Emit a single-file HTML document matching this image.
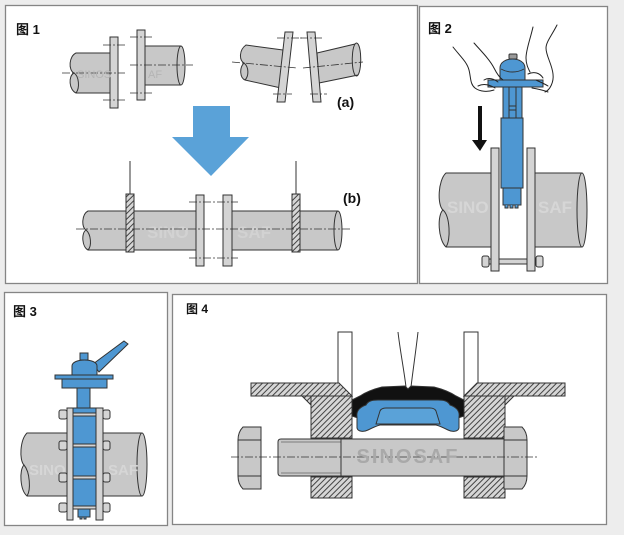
<!DOCTYPE html>
<html><head><meta charset="utf-8"><style>
html,body{margin:0;padding:0;background:#ededed;}
svg{display:block;}
text{font-family:"Liberation Sans","Noto Sans CJK SC",sans-serif;}
</style></head><body>
<svg width="624" height="535" viewBox="0 0 624 535" xmlns="http://www.w3.org/2000/svg">
<defs>
<pattern id="h" width="4" height="4" patternUnits="userSpaceOnUse" patternTransform="rotate(45)">
<rect width="4" height="4" fill="#d6d6d6"/><line x1="0.5" y1="0" x2="0.5" y2="4" stroke="#444" stroke-width="1"/>
</pattern>
</defs>
<rect width="624" height="535" fill="#ededed"/>

<!-- Panel 1 -->
<rect x="5.5" y="5.5" width="412" height="278" fill="#fff" stroke="#858585" stroke-width="1.3"/>
<text x="16" y="34" font-size="13" font-weight="bold" fill="#111">图 1</text>
<g stroke="#333" stroke-width="1" fill="#c8c8c8">
  <!-- left aligned group -->
  <path d="M110,53 H76 C69,56 68,70 74,73 C68,76 69,90 76,93 H110 Z"/>
  <path d="M74,73 C79,76 80,88 76,93" fill="none"/>
  <rect x="110" y="37" width="8" height="71" fill="#d4d4d4"/>
  <path d="M145,46 H181 A4,19.5 0 0 1 181,85 H145 Z"/>
  <path d="M181,46 A4,19.5 0 0 0 181,85" fill="none"/>
  <rect x="137" y="30" width="8" height="70" fill="#d4d4d4"/>
  <!-- angular group -->
  <path d="M283,50 L246,45 C239,50 239,60 244,63 C239,68 240,78 245,80 L281,88 Z"/>
  <path d="M244,63 C249,67 249,76 245,80" fill="none"/>
  <path d="M285,32 L293,32 L285,102 L277,102 Z" fill="#d4d4d4"/>
  <path d="M317,53 L355,44 A4,15.5 0 0 1 358,75 L319,83 Z"/>
  <path d="M355,44 A4,15.5 0 0 0 358,75" fill="none"/>
  <path d="M307,32 L315,32 L321,102 L313,102 Z" fill="#d4d4d4"/>
</g>
<g stroke="#333" stroke-width="0.8" stroke-dasharray="8,2,2,2" fill="none">
  <line x1="62" y1="73" x2="125" y2="73"/>
  <line x1="130" y1="65" x2="193" y2="65"/>
  <line x1="103" y1="45" x2="125" y2="45"/>
  <line x1="103" y1="100" x2="125" y2="100"/>
  <line x1="130" y1="37" x2="152" y2="37"/>
  <line x1="130" y1="93" x2="152" y2="93"/>
  <line x1="232" y1="62" x2="297" y2="68"/>
  <line x1="303" y1="68" x2="363" y2="62"/>
  <line x1="277" y1="38" x2="302" y2="38"/>
  <line x1="273" y1="94" x2="292" y2="94"/>
  <line x1="300" y1="38" x2="322" y2="38"/>
  <line x1="310" y1="94" x2="327" y2="94"/>
</g>
<text x="77" y="78" font-size="11" fill="#b4b4b4">SINOS</text>
<text x="148" y="78" font-size="11" fill="#b4b4b4">AF</text>
<text x="337" y="107" font-size="14" font-weight="bold" fill="#111">(a)</text>
<!-- blue arrow -->
<path d="M193,106 H230 V137 H249 L211,176 L172,137 H193 Z" fill="#5aa2d8"/>
<!-- row b -->
<g stroke="#333" stroke-width="1" fill="#c8c8c8">
  <path d="M196,211 H88 C82,214 81,227 86,230 C81,233 82,247 88,250 H196 Z"/>
  <path d="M86,230 C91,234 92,246 88,250" fill="none"/>
  <path d="M232,211 H338 A4,19.5 0 0 1 338,250 H232 Z"/>
  <path d="M338,211 A4,19.5 0 0 0 338,250" fill="none"/>
  <rect x="196" y="195" width="8" height="71" fill="#d4d4d4"/>
  <rect x="223" y="195" width="9" height="71" fill="#d4d4d4"/>
  <rect x="126" y="194" width="8" height="58" fill="url(#h)"/>
  <rect x="292" y="194" width="8" height="58" fill="url(#h)"/>
  <line x1="130" y1="161" x2="130" y2="194"/>
  <line x1="296" y1="161" x2="296" y2="194"/>
</g>
<text x="147" y="238" font-size="17" font-weight="bold" fill="#d2d2d2">SINO</text>
<text x="237" y="238" font-size="17" font-weight="bold" fill="#d2d2d2">SAF</text>
<g stroke="#333" stroke-width="0.8" stroke-dasharray="8,2,2,2" fill="none">
  <line x1="76" y1="229" x2="350" y2="229"/>
  <line x1="189" y1="202" x2="238" y2="202"/>
  <line x1="189" y1="258" x2="238" y2="258"/>
</g>
<text x="343" y="203" font-size="14" font-weight="bold" fill="#111">(b)</text>

<!-- Panel 2 -->
<rect x="419.5" y="6.5" width="188" height="277" fill="#fff" stroke="#858585" stroke-width="1.3"/>
<text x="428" y="33" font-size="13" font-weight="bold" fill="#111">图 2</text>
<g stroke="#333" stroke-width="1" fill="#c8c8c8">
  <path d="M491,173 H446 C438,180 437,205 443,210 C437,215 438,240 446,247 H491 Z"/>
  <path d="M443,210 C450,216 451,240 446,247" fill="none"/>
  <path d="M535,173 H582 A5,37 0 0 1 582,247 H535 Z"/>
  <path d="M582,173 A5,37 0 0 0 582,247" fill="none"/>
</g>
<text x="447" y="213" font-size="17" font-weight="bold" fill="#d6d6d6">SINO</text>
<text x="538" y="213" font-size="17" font-weight="bold" fill="#d6d6d6">SAF</text>
<g stroke="#333" stroke-width="1">
  <rect x="484" y="259" width="58" height="5" fill="#d4d4d4"/>
  <rect x="482" y="256" width="7" height="11" rx="2" fill="#d4d4d4"/>
  <rect x="536" y="256" width="7" height="11" rx="2" fill="#d4d4d4"/>
  <rect x="491" y="148" width="8" height="123" fill="#d4d4d4"/>
  <rect x="527" y="148" width="8" height="123" fill="#d4d4d4"/>
  <!-- valve -->
  <rect x="503" y="188" width="18" height="17" fill="#4e97d2"/>
  <path d="M505,205 v3 h3 v-3 M510,205 v3 h3 v-3 M515,205 v3 h3 v-3" fill="#4e97d2"/>
  <rect x="501" y="118" width="22" height="70" fill="#4e97d2"/>
  <rect x="503" y="85" width="19" height="33" fill="#4e97d2"/>
  <line x1="509" y1="87" x2="509" y2="118"/>
  <line x1="516" y1="87" x2="516" y2="118"/>
  <line x1="509" y1="106" x2="516" y2="106"/>
  <line x1="509" y1="110" x2="516" y2="110"/>
  <rect x="488" y="80" width="55" height="7" fill="#4e97d2"/>
  <path d="M500,80 V68 C500,56 525,56 525,68 V80 Z" fill="#4e97d2"/>
  <path d="M501,69 C508,73 517,73 524,69" fill="none"/>
  <rect x="509" y="54" width="8" height="5" rx="1" fill="#999"/>
</g>
<!-- black arrow -->
<rect x="478" y="106" width="4" height="35" fill="#111"/>
<path d="M472,140 H487 L480,151 Z" fill="#111"/>
<!-- hands -->
<g stroke="#222" stroke-width="1" fill="none" stroke-linecap="round">
  <path d="M453,47 C460,56 467,62 469,70 C471,78 470,84 475,88 C480,92 488,92 494,90"/>
  <path d="M474,43 C482,52 490,60 494,68 C497,74 500,78 503,80"/>
  <path d="M484,80 C489,77 494,79 498,82"/>
  <path d="M478,86 C484,83 490,85 495,88"/>
  <path d="M533,27 C530,40 526,50 526,58 C526,64 528,68 530,72"/>
  <path d="M557,25 C552,35 546,42 546,48 C546,56 552,64 553,74 C554,82 550,90 545,92"/>
  <path d="M528,74 C534,71 540,73 543,78"/>
  <path d="M532,88 C538,89 543,90 548,92"/>
  <path d="M536,80 C540,82 545,84 548,86"/>
</g>

<!-- Panel 3 -->
<rect x="4.5" y="292.5" width="163" height="233" fill="#fff" stroke="#858585" stroke-width="1.3"/>
<text x="13" y="316" font-size="13" font-weight="bold" fill="#111">图 3</text>
<g stroke="#333" stroke-width="1" fill="#c8c8c8">
  <path d="M67,433 H27 C20,440 19,460 24,465 C19,470 20,490 27,496 H67 Z"/>
  <path d="M24,465 C30,472 31,490 27,496" fill="none"/>
  <path d="M103,433 H142 A5,31.5 0 0 1 142,496 H103 Z"/>
  <path d="M142,433 A5,31.5 0 0 0 142,496" fill="none"/>
</g>
<text x="29" y="475" font-size="15" font-weight="bold" fill="#d6d6d6">SINO</text>
<text x="108" y="475" font-size="15" font-weight="bold" fill="#d6d6d6">SAF</text>
<g stroke="#333" stroke-width="1">
  <path d="M93,364 L124,341 L128,344 L99,372 Z" fill="#4e97d2"/>
  <rect x="80" y="353" width="8" height="7" fill="#4e97d2"/>
  <path d="M72,375 V366 C72,358 97,358 97,366 V375 Z" fill="#4e97d2"/>
  <rect x="55" y="375" width="58" height="4" fill="#4e97d2"/>
  <rect x="62" y="379" width="45" height="9" fill="#4e97d2"/>
  <rect x="77" y="388" width="13" height="20" fill="#4e97d2"/>
  <rect x="78" y="505" width="12" height="12" fill="#4e97d2"/>
  <path d="M80,517 v2 h2 v-2 M84,517 v2 h2 v-2" fill="#4e97d2"/>
  <rect x="73" y="408" width="23" height="99" fill="#4e97d2"/>
  <rect x="60" y="413" width="48" height="3" fill="#d4d4d4"/>
  <rect x="60" y="444" width="48" height="3" fill="#d4d4d4"/>
  <rect x="60" y="476" width="48" height="3" fill="#d4d4d4"/>
  <rect x="60" y="506" width="48" height="3" fill="#d4d4d4"/>
  <rect x="67" y="408" width="6" height="112" fill="#d4d4d4"/>
  <rect x="96" y="408" width="7" height="112" fill="#d4d4d4"/>
  <rect x="59" y="410" width="8" height="9" rx="2" fill="#d4d4d4"/>
  <rect x="103" y="410" width="7" height="9" rx="2" fill="#d4d4d4"/>
  <rect x="59" y="441" width="8" height="9" rx="2" fill="#d4d4d4"/>
  <rect x="103" y="441" width="7" height="9" rx="2" fill="#d4d4d4"/>
  <rect x="59" y="473" width="8" height="9" rx="2" fill="#d4d4d4"/>
  <rect x="103" y="473" width="7" height="9" rx="2" fill="#d4d4d4"/>
  <rect x="59" y="503" width="8" height="9" rx="2" fill="#d4d4d4"/>
  <rect x="103" y="503" width="7" height="9" rx="2" fill="#d4d4d4"/>
</g>

<!-- Panel 4 -->
<rect x="172.5" y="294.5" width="434" height="230" fill="#fff" stroke="#858585" stroke-width="1.3"/>
<text x="186" y="313" font-size="12" font-weight="bold" fill="#111">图 4</text>
<g stroke="#333" stroke-width="1">
  <rect x="338" y="332" width="14" height="64" fill="#fff"/>
  <rect x="464" y="332" width="14" height="64" fill="#fff"/>
  <path d="M251,383 H339 L352,396 H251 Z" fill="url(#h)"/>
  <path d="M565,383 H477 L464,396 H565 Z" fill="url(#h)"/>
  <path d="M302,396 H312 V406 Z" fill="url(#h)"/>
  <path d="M514,396 H504 V406 Z" fill="url(#h)"/>
  <rect x="311" y="396" width="41" height="42" fill="url(#h)"/>
  <rect x="464" y="396" width="41" height="42" fill="url(#h)"/>
  <rect x="311" y="477" width="41" height="21" fill="url(#h)"/>
  <rect x="464" y="477" width="41" height="21" fill="url(#h)"/>
  <!-- bolt -->
  <path d="M504,439 H281 Q278,439 278,442 V473 Q278,476 281,476 H504 Z" fill="#c8c8c8"/>
  <line x1="341" y1="439" x2="341" y2="476"/>
  <line x1="281" y1="442" x2="341" y2="442" stroke-width="0.6"/>
  <line x1="281" y1="473" x2="341" y2="473" stroke-width="0.6"/>
  <path d="M504,427 H522 Q527,432 527,440 V476 Q527,484 522,489 H504 Z" fill="#c8c8c8"/>
  <line x1="504" y1="440" x2="527" y2="440"/>
  <line x1="504" y1="476" x2="527" y2="476"/>
  <path d="M243,427 H261 V489 H243 Q238,484 238,476 V440 Q238,432 243,427 Z" fill="#c8c8c8"/>
  <line x1="238" y1="440" x2="261" y2="440"/>
  <line x1="238" y1="476" x2="261" y2="476"/>
  <!-- seal -->
  <path d="M352,400 L360,396 C366,392 374,389 382,387 L405,386 L408,389 L411,386 L434,387 C442,389 450,392 456,396 L464,400 L464,416 L458,418 L358,418 L352,416 Z" fill="#111"/>
  <path d="M357,417 C356,411 360,407 366,405 C368,401 372,400 378,400 L438,400 C444,400 448,401 450,405 C456,407 460,411 459,417 L459,428 C458,432 452,432 448,430 C444,428 440,426 436,425 L380,425 C376,426 372,428 368,430 C364,432 358,432 357,428 Z" fill="#4e97d2"/>
  <path d="M376,424 L380,411 C381,409 383,408 386,408 L430,408 C433,408 435,409 436,411 L440,424 Z" fill="#5aa2d8"/>
</g>
<g stroke="#333" stroke-width="1" fill="none">
  <path d="M398,332 C400,350 404,370 406,387"/>
  <path d="M418,332 C416,350 413,370 411,387"/>
</g>
<line x1="231" y1="457" x2="537" y2="457" stroke="#333" stroke-width="0.8" stroke-dasharray="8,2,2,2"/>
<text x="408" y="463" font-size="20" font-weight="bold" fill="#a9a9a9" text-anchor="middle" letter-spacing="2">SINOSAF</text>
</svg>
</body></html>
